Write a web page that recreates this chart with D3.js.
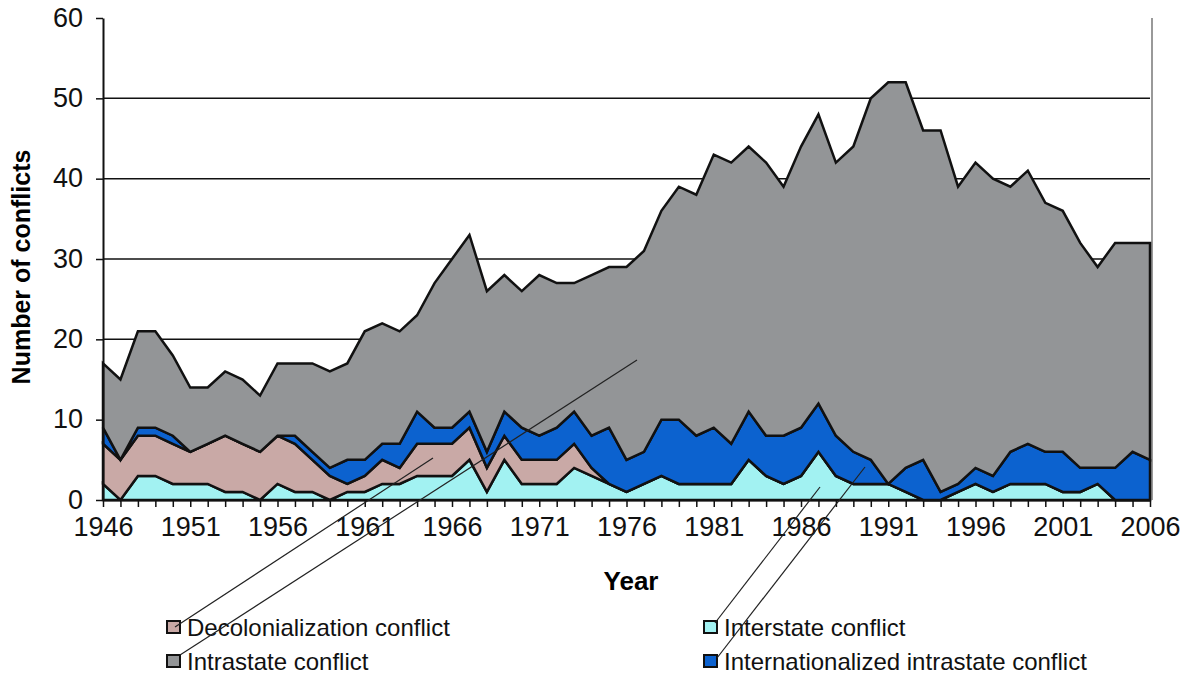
<!DOCTYPE html>
<html>
<head>
<meta charset="utf-8">
<script src="https://cdn.jsdelivr.net/npm/d3@7"></script>
<style>
    body { margin: 0; background: #fff; }
    svg { display: block; font-family: "Liberation Sans", Arial, sans-serif; }
</style>
</head>
<body>
<div id="chart"></div>
<script>
const years = [1946, 1947, 1948, 1949, 1950, 1951, 1952, 1953, 1954, 1955,
    1956, 1957, 1958, 1959, 1960, 1961, 1962, 1963, 1964, 1965,
    1966, 1967, 1968, 1969, 1970, 1971, 1972, 1973, 1974, 1975,
    1976, 1977, 1978, 1979, 1980, 1981, 1982, 1983, 1984, 1985,
    1986, 1987, 1988, 1989, 1990, 1991, 1992, 1993, 1994, 1995,
    1996, 1997, 1998, 1999, 2000, 2001, 2002, 2003, 2004, 2005, 2006];

const interstate = [2, 0, 3, 3, 2, 2, 2, 1, 1, 0,
    2, 1, 1, 0, 1, 1, 2, 2, 3, 3,
    3, 5, 1, 5, 2, 2, 2, 4, 3, 2,
    1, 2, 3, 2, 2, 2, 2, 5, 3, 2,
    3, 6, 3, 2, 2, 2, 1, 0, 0, 1,
    2, 1, 2, 2, 2, 1, 1, 2, 0, 0, 0];

const decolonization = [5, 5, 5, 5, 5, 4, 5, 7, 6, 6,
    6, 6, 4, 3, 1, 2, 3, 2, 4, 4,
    4, 4, 3, 3, 3, 3, 3, 3, 1, 0,
    0, 0, 0, 0, 0, 0, 0, 0, 0, 0,
    0, 0, 0, 0, 0, 0, 0, 0, 0, 0,
    0, 0, 0, 0, 0, 0, 0, 0, 0, 0, 0];

const internationalized = [2, 0, 1, 1, 1, 0, 0, 0, 0, 0,
    0, 1, 1, 1, 3, 2, 2, 3, 4, 2,
    2, 2, 2, 3, 4, 3, 4, 4, 4, 7,
    4, 4, 7, 8, 6, 7, 5, 6, 5, 6,
    6, 6, 5, 4, 3, 0, 3, 5, 1, 1,
    2, 2, 4, 5, 4, 5, 3, 2, 4, 6, 5];

const intrastate = [8, 10, 12, 12, 10, 8, 7, 8, 8, 7,
    9, 9, 11, 12, 12, 16, 15, 14, 12, 18,
    21, 22, 20, 17, 17, 20, 18, 16, 20, 20,
    24, 25, 26, 29, 30, 34, 35, 33, 34, 31,
    35, 36, 34, 38, 45, 50, 48, 41, 45, 37,
    38, 37, 33, 34, 31, 30, 28, 25, 28, 26, 27];

const yTicks = [0, 10, 20, 30, 40, 50, 60];
const xTickLabels = [1946, 1951, 1956, 1961, 1966, 1971, 1976, 1981, 1986, 1991, 1996, 2001, 2006];

const keys = ["interstate", "decolonization", "internationalized", "intrastate"];
const colors = {
    interstate: "#a2f2f2",
    decolonization: "#c9a9a6",
    internationalized: "#0c62cf",
    intrastate: "#939597"
};

const width = 1188, height = 675;
const margin = {top: 18, right: 38, bottom: 175, left: 103};
const innerW = width - margin.left - margin.right;
const innerH = height - margin.top - margin.bottom;

const table = years.map((y, i) => ({
    year: y,
    interstate: interstate[i],
    decolonization: decolonization[i],
    internationalized: internationalized[i],
    intrastate: intrastate[i]
}));

const svg = d3.select("#chart").append("svg")
    .attr("width", width)
    .attr("height", height);

const g = svg.append("g")
    .attr("transform", `translate(${margin.left}, ${margin.top})`);

const xScale = d3.scaleLinear()
    .domain([years[0], years[years.length - 1]])
    .range([0, innerW]);

const yScale = d3.scaleLinear()
    .domain([0, 60])
    .range([innerH, 0]);

// gridlines
g.append("g")
    .selectAll("line")
    .data(yTicks.filter(d => d > 0 && d < 60))
    .join("line")
    .attr("x1", 0)
    .attr("x2", innerW)
    .attr("y1", d => yScale(d))
    .attr("y2", d => yScale(d))
    .attr("stroke", "#111")
    .attr("stroke-width", 1.5);

// right border of plot area
g.append("line")
    .attr("x1", innerW + 2).attr("x2", innerW + 2)
    .attr("y1", 0).attr("y2", innerH)
    .attr("stroke", "#999")
    .attr("stroke-width", 2);

const series = d3.stack().keys(keys)(table);

const area = d3.area()
    .x(d => xScale(d.data.year))
    .y0(d => yScale(d[0]))
    .y1(d => yScale(d[1]));

g.append("g")
    .selectAll("path")
    .data(series)
    .join("path")
    .attr("d", area)
    .attr("fill", d => colors[d.key])
    .attr("stroke", "#111")
    .attr("stroke-width", 2.5)
    .attr("stroke-linejoin", "miter");

// axes
const xAxis = d3.axisBottom(xScale)
    .tickValues(years)
    .tickSize(7)
    .tickSizeOuter(0)
    .tickFormat(d => xTickLabels.includes(d) ? d : "");

const yAxis = d3.axisLeft(yScale)
    .tickValues(yTicks)
    .tickSize(7)
    .tickSizeOuter(0);

const xAxisGroup = g.append("g")
    .attr("transform", `translate(0, ${innerH})`)
    .call(xAxis);

xAxisGroup.select(".domain").attr("stroke", "#111").attr("stroke-width", 2);
xAxisGroup.selectAll(".tick line").attr("stroke", "#111").attr("stroke-width", 1.5);
xAxisGroup.selectAll(".tick text")
    .attr("y", 17)
    .attr("dy", "0.71em")
    .style("font-size", "27px")
    .attr("fill", "#111");

const yAxisGroup = g.append("g")
    .call(yAxis);

yAxisGroup.select(".domain").attr("stroke", "#111").attr("stroke-width", 2);
yAxisGroup.selectAll(".tick line").attr("stroke", "#111").attr("stroke-width", 1.5);
yAxisGroup.selectAll(".tick text")
    .attr("x", -20)
    .attr("dy", "0.3em")
    .style("font-size", "27px")
    .attr("fill", "#111");

// axis titles
svg.append("text")
    .attr("text-anchor", "middle")
    .attr("transform", `translate(30, ${margin.top + innerH / 2 + 8}) rotate(-90)`)
    .style("font-size", "25px")
    .style("font-weight", "bold")
    .text("Number of conflicts");

svg.append("text")
    .attr("text-anchor", "middle")
    .attr("x", 631)
    .attr("y", 590)
    .style("font-size", "26px")
    .style("font-weight", "bold")
    .text("Year");

// legend
const legendItems = [
    {key: "decolonization", label: "Decolonialization conflict", x: 167, y: 627},
    {key: "intrastate", label: "Intrastate conflict", x: 167, y: 661},
    {key: "interstate", label: "Interstate conflict", x: 704, y: 627},
    {key: "internationalized", label: "Internationalized intrastate conflict", x: 704, y: 661}
];

const legend = svg.append("g");

legend.selectAll("rect")
    .data(legendItems)
    .join("rect")
    .attr("x", d => d.x)
    .attr("y", d => d.y - 6)
    .attr("width", 13)
    .attr("height", 12)
    .attr("fill", d => colors[d.key])
    .attr("stroke", "#111")
    .attr("stroke-width", 2);

legend.selectAll("text")
    .data(legendItems)
    .join("text")
    .attr("x", d => d.x + 20)
    .attr("y", d => d.y + 9)
    .style("font-size", "24px")
    .attr("fill", "#111")
    .text(d => d.label);

// leader lines from legend keys into the areas
const leaders = [
    {from: [175, 627], to: [433, 458]},
    {from: [180, 655], to: [637, 360]},
    {from: [715, 623], to: [820, 487]},
    {from: [717, 658], to: [865, 467]}
];

svg.append("g")
    .selectAll("line")
    .data(leaders)
    .join("line")
    .attr("x1", d => d.from[0])
    .attr("y1", d => d.from[1])
    .attr("x2", d => d.to[0])
    .attr("y2", d => d.to[1])
    .attr("stroke", "#222")
    .attr("stroke-width", 1.2);
</script>
</body>
</html>
